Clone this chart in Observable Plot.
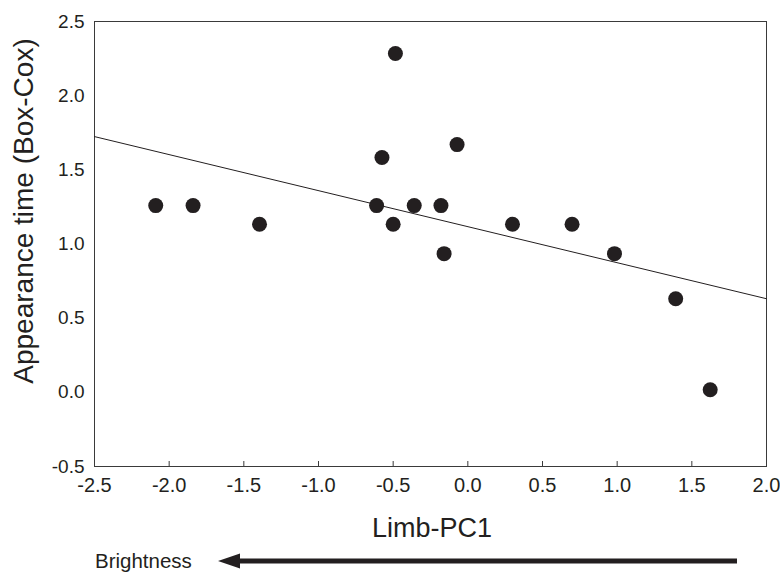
<!DOCTYPE html>
<html><head><meta charset="utf-8">
<script src="https://cdn.jsdelivr.net/npm/d3@7"></script>
<script src="https://cdn.jsdelivr.net/npm/@observablehq/plot@0.6"></script>
<style>
body{margin:0;background:#fff}
#chart svg{display:block}
</style></head><body><div id="chart"></div>
<script>
// Data
const limbPC1    = [-2.09, -1.84, -1.395, -0.611, -0.575, -0.485, -0.50, -0.359, -0.180, -0.159, -0.072, 0.299, 0.698, 0.982, 1.392, 1.623];
const appearance = [ 1.259, 1.259, 1.133,  1.259,  1.583,  2.284,  1.133, 1.259,  1.259,  0.935,  1.670, 1.133, 1.133, 0.935, 0.631, 0.017];
// Fitted regression line as drawn (ends at the x-domain edges)
const fitX = [-2.5, 2.0];
const fitY = [1.724, 0.631];
const xTicks = [-2.5, -2.0, -1.5, -1.0, -0.5, 0.0, 0.5, 1.0, 1.5, 2.0];
const yTicks = [-0.5, 0.0, 0.5, 1.0, 1.5, 2.0, 2.5];
const xLabel = "Limb-PC1";
const yLabel = "Appearance time (Box-Cox)";
const arrowLabel = "Brightness";

const points = limbPC1.map((x, i) => ({x, y: appearance[i]}));
const fit = fitX.map((x, i) => ({x, y: fitY[i]}));
const ink = "#231f20";
const fmt = d => d.toFixed(1);

const plot = Plot.plot({
  width: 780, height: 574,
  marginLeft: 94, marginRight: 14, marginTop: 21, marginBottom: 108,
  style: {fontFamily: "'Liberation Sans', Arial, sans-serif", color: ink, background: "#fff", overflow: "visible"},
  x: {domain: [-2.5, 2.0], label: null},
  y: {domain: [-0.5, 2.5], label: null},
  marks: [
    Plot.frame({stroke: "#3a3a3a", strokeWidth: 1}),
    Plot.axisX(xTicks, {anchor: "bottom", tickSize: 5, dy: -5, tickFormat: () => "", stroke: "#3a3a3a"}),
    Plot.axisX(xTicks, {anchor: "bottom", tickSize: 0, tickPadding: 11, fontSize: 20, tickFormat: fmt, fill: ink}),
    Plot.axisY(yTicks, {anchor: "left", tickSize: 0, tickPadding: 10, fontSize: 19, tickFormat: fmt, fill: ink}),
    Plot.line(fit, {x: "x", y: "y", stroke: ink, strokeWidth: 1}),
    Plot.dot(points, {x: "x", y: "y", r: 7.5, fill: ink, stroke: "none"})
  ]
});

const svg = d3.select(plot);
const font = "'Liberation Sans', Arial, sans-serif";
svg.append("text").attr("transform", "translate(33,211) rotate(-90)")
  .attr("text-anchor", "middle").attr("font-family", font).attr("font-size", 28).attr("fill", ink).text(yLabel);
svg.append("text").attr("x", 432).attr("y", 537)
  .attr("text-anchor", "middle").attr("font-family", font).attr("font-size", 27).attr("fill", ink).text(xLabel);
svg.append("text").attr("x", 95).attr("y", 568).attr("text-anchor", "start")
  .attr("font-family", font).attr("font-size", 20.5).attr("fill", ink).text(arrowLabel);
svg.append("line").attr("x1", 236).attr("x2", 737).attr("y1", 561).attr("y2", 561)
  .attr("stroke", ink).attr("stroke-width", 5);
svg.append("path").attr("d", "M218,561L240,553.5L240,568.5Z").attr("fill", ink);

document.getElementById("chart").appendChild(plot);
</script></body></html>
